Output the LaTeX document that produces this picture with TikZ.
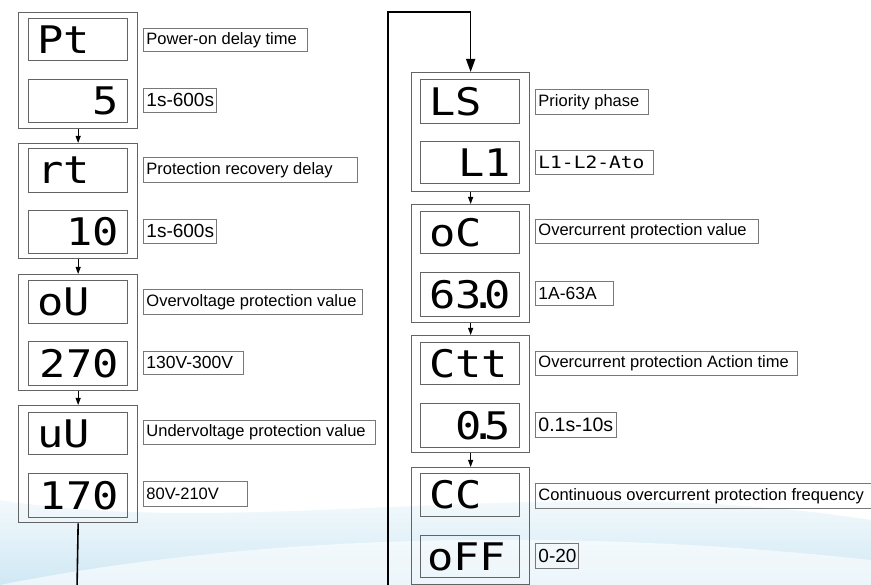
\documentclass[tikz,border=0pt]{standalone}
\usepackage{fontspec}
\setmainfont{Liberation Sans}
\newfontfamily\dispfont[FakeStretch=1.15]{DejaVu Sans Mono}
\usetikzlibrary{arrows.meta}
\definecolor{boxgray}{RGB}{100,100,100}
\definecolor{lblgray}{RGB}{120,120,120}
\definecolor{swoosh}{RGB}{208,232,244}
\newcommand{\dotk}{\kern-12pt.\kern-12pt}
\newcommand{\lbltext}[2]{\hbox to #1pt{#2\hss}}
\tikzset{
  outerbox/.style={draw=boxgray, line width=1.3pt, anchor=north west, minimum width=119pt, inner sep=0pt},
  innerbox/.style={draw=boxgray, line width=1pt, anchor=north west, minimum width=99pt, inner sep=0pt},
  lbl/.style={draw=lblgray, line width=0.9pt, anchor=north west, inner xsep=3pt, inner ysep=0pt, font=\fontsize{16.5}{18}\selectfont},
  disp/.style={inner sep=0pt, font=\dispfont\fontsize{38}{38}\selectfont},
  link/.style={draw=black, line width=1pt, -{Triangle[width=5pt,length=7pt]}},
  loopline/.style={draw=black, line width=1.6pt},
}
\begin{document}
\begin{tikzpicture}[x=1pt,y=-1pt]
\useasboundingbox (0,0) rectangle (871,585);
% background swoosh
\shade[top color=white, bottom color=swoosh] (0,500) .. controls (250,540) and (550,470) .. (871,520) -- (871,585) -- (0,585) -- cycle;
\fill[white, opacity=0.6] (0,585) .. controls (200,545) and (500,520) .. (871,560) -- (871,585) -- cycle;

% ---------------- left column ----------------
\node[outerbox, minimum height=116pt] (g1) at (18,12) {};
\node[innerbox, minimum height=42pt] (g1a) at (28,18) {};
\node[innerbox, minimum height=43pt] (g1b) at (28,79) {};
\node[disp, anchor=west] at ([xshift=9pt]g1a.west) {Pt};
\node[disp, anchor=east] at ([xshift=-9pt]g1b.east) {5};
\node[lbl, minimum height=23pt] (l1a) at (143,28) {\lbltext{158}{Power-on delay time}};
\node[lbl, minimum height=24pt, font=\fontsize{19}{20}\selectfont] (l1b) at (143,88) {\lbltext{67}{1s-600s}};

\node[outerbox, minimum height=115pt] (g2) at (18,143) {};
\node[innerbox, minimum height=44pt] (g2a) at (28,148) {};
\node[innerbox, minimum height=43pt] (g2b) at (28,210) {};
\node[disp, anchor=west] at ([xshift=9pt]g2a.west) {rt};
\node[disp, anchor=east] at ([xshift=-9pt]g2b.east) {10};
\node[lbl, minimum height=25pt] (l2a) at (143,157) {\lbltext{208}{Protection recovery delay}};
\node[lbl, minimum height=24pt, font=\fontsize{19}{20}\selectfont] (l2b) at (143,219) {\lbltext{67}{1s-600s}};

\node[outerbox, minimum height=116pt] (g3) at (18,274) {};
\node[innerbox, minimum height=43pt] (g3a) at (28,280) {};
\node[innerbox, minimum height=44pt] (g3b) at (28,341) {};
\node[disp, anchor=west] at ([xshift=9pt]g3a.west) {oU};
\node[disp, anchor=east] at ([xshift=-9pt]g3b.east) {270};
\node[lbl, minimum height=25pt] (l3a) at (143,289) {\lbltext{213}{Overvoltage protection value}};
\node[lbl, minimum height=23pt, font=\fontsize{17.5}{19}\selectfont] (l3b) at (143,351) {\lbltext{94}{130V-300V}};

\node[outerbox, minimum height=117pt] (g4) at (18,405) {};
\node[innerbox, minimum height=42pt] (g4a) at (28,412) {};
\node[innerbox, minimum height=44pt] (g4b) at (28,473) {};
\node[disp, anchor=west] at ([xshift=9pt]g4a.west) {uU};
\node[disp, anchor=east] at ([xshift=-9pt]g4b.east) {170};
\node[lbl, minimum height=24pt] (l4a) at (143,420) {\lbltext{226}{Undervoltage protection value}};
\node[lbl, minimum height=25pt] (l4b) at (143,481) {\lbltext{98}{80V-210V}};

% ---------------- right column ----------------
\node[outerbox, minimum width=118pt, minimum height=119pt] (r1) at (411,72) {};
\node[innerbox, minimum height=44pt] (r1a) at (420,79) {};
\node[innerbox, minimum height=42pt] (r1b) at (420,141) {};
\node[disp, anchor=west] at ([xshift=9pt]r1a.west) {LS};
\node[disp, anchor=east] at ([xshift=-9pt]r1b.east) {L1};
\node[lbl, minimum height=25pt] (s1a) at (535,89) {\lbltext{107}{Priority phase}};
\node[lbl, minimum height=24pt, font=\dispfont\fontsize{17}{18}\selectfont] (s1b) at (535,150) {\lbltext{112}{L1-L2-Ato}};

\node[outerbox, minimum width=118pt, minimum height=118pt] (r2) at (411,204) {};
\node[innerbox, minimum height=42pt] (r2a) at (420,211) {};
\node[innerbox, minimum height=44pt] (r2b) at (420,272) {};
\node[disp, anchor=west] at ([xshift=9pt]r2a.west) {oC};
\node[disp, anchor=east] at ([xshift=-9pt]r2b.east) {63\dotk0};
\node[lbl, minimum height=24pt] (s2a) at (535,219) {\lbltext{217}{Overcurrent protection value}};
\node[lbl, minimum height=24pt, font=\fontsize{17.5}{19}\selectfont] (s2b) at (535,281) {\lbltext{72}{1A-63A}};

\node[outerbox, minimum width=118pt, minimum height=117pt] (r3) at (411,335) {};
\node[innerbox, minimum height=42pt] (r3a) at (420,342) {};
\node[innerbox, minimum height=44pt] (r3b) at (420,403) {};
\node[disp, anchor=west] at ([xshift=9pt]r3a.west) {Ctt};
\node[disp, anchor=east] at ([xshift=-9pt]r3b.east) {0\dotk5};
\node[lbl, minimum height=24pt] (s3a) at (535,351) {\lbltext{256}{Overcurrent protection Action time}};
\node[lbl, minimum height=25pt, font=\fontsize{19.5}{20}\selectfont] (s3b) at (535,412) {\lbltext{75}{0.1s-10s}};

\node[outerbox, minimum width=118pt, minimum height=117pt] (r4) at (411,467) {};
\node[innerbox, minimum height=43pt] (r4a) at (420,473) {};
\node[innerbox, minimum height=42pt] (r4b) at (420,535) {};
\node[disp, anchor=west] at ([xshift=9pt]r4a.west) {CC};
\node[disp, anchor=west] at ([xshift=7pt]r4b.west) {oFF};
\node[lbl, minimum height=25pt] (s4a) at (535,483) {\lbltext{339}{Continuous overcurrent protection frequency}};
\node[lbl, minimum height=25pt, font=\fontsize{19}{20}\selectfont] (s4b) at (535,543) {\lbltext{37}{0-20}};

% ---------------- connectors ----------------
\draw[link] (g1.south) -- (g2.north);
\draw[link] (g2.south) -- (g3.north);
\draw[link] (g3.south) -- (g4.north);
\draw[link] (r1.south) -- (r2.north);
\draw[link] (r2.south) -- (r3.north);
\draw[link] (r3.south) -- (r4.north);

\coordinate (lbot) at (77,590);
\coordinate (rbot) at (388,590);
\coordinate (rtop) at (388,12);
\draw[loopline] (g4.south) -- (lbot);
\draw[loopline, -{Triangle[width=9pt,length=13pt]}] (rbot) -- (rtop) -| (r1.north);
\end{tikzpicture}
\end{document}
